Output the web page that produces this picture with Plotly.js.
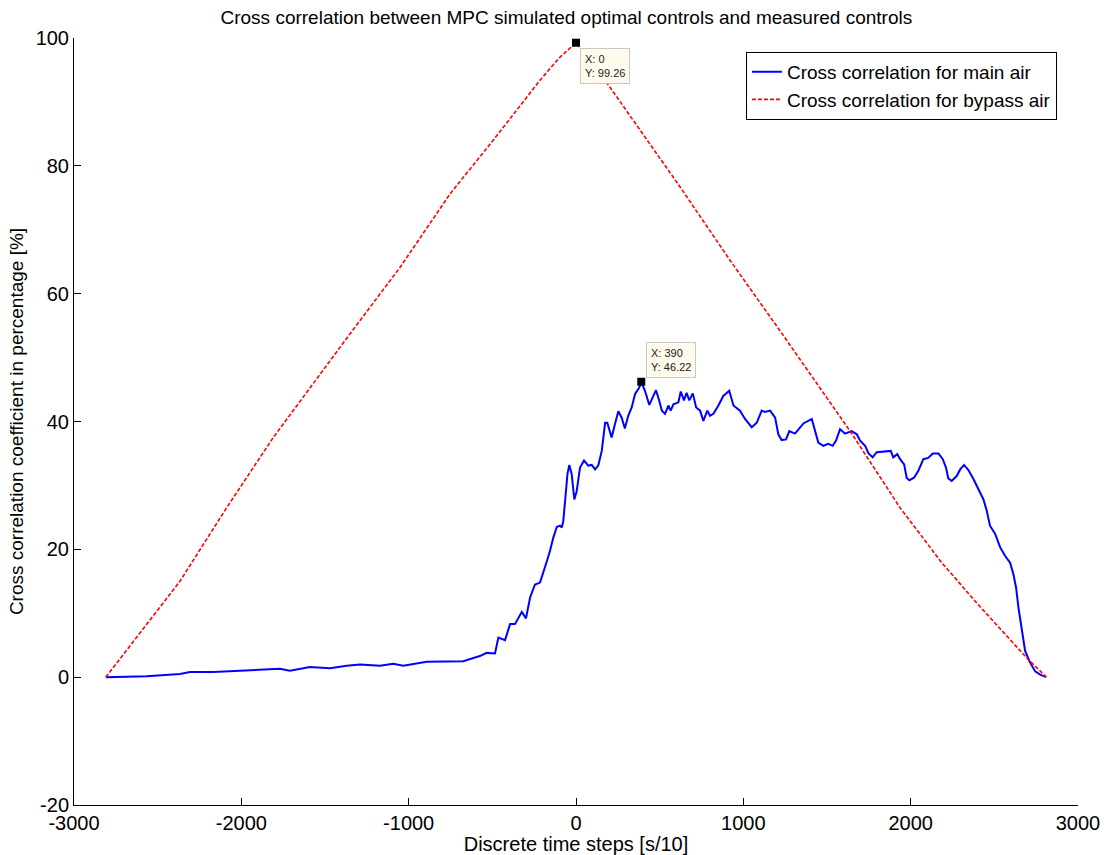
<!DOCTYPE html>
<html>
<head>
<meta charset="utf-8">
<script src="https://cdn.plot.ly/plotly-3.0.1.min.js"></script>
<style>html,body{margin:0;padding:0;background:#fff;}#chart{width:1104px;height:855px;}</style>
</head>
<body>
<div id="chart"></div>
<script>
// Cross correlation for main air (blue)
const mainX = [-2810,-2566,-2367,-2307,-2168,-1968,-1769,-1710,-1590,-1470,-1371,-1291,-1172,-1092,-1032,-892,-773,-674,-613,-574,-534,-484,-464,-424,-394,-365,-324,-299,-274,-245,-215,-191,-171,-156,-136,-115,-96,-85,-76,-65,-51,-40,-26,-10,4,24,48,73,94,114,133,154,174,187,213,233,253,273,292,312,333,353,378,390,412,438,458,478,498,513,532,552,566,582,612,626,645,661,677,698,718,742,761,785,801,821,851,880,916,941,980,1010,1050,1080,1110,1130,1160,1190,1209,1229,1255,1275,1309,1339,1359,1409,1422,1448,1478,1508,1534,1554,1578,1608,1647,1678,1698,1728,1748,1773,1797,1827,1858,1881,1896,1920,1937,1961,1976,1992,2020,2046,2076,2105,2132,2166,2192,2211,2225,2245,2276,2296,2319,2345,2375,2405,2435,2455,2474,2505,2535,2564,2594,2614,2630,2644,2664,2684,2710,2744,2774,2810];
const mainY = [0,0.15,0.5,0.8,0.8,1.0,1.3,1.0,1.6,1.4,1.8,2.0,1.8,2.1,1.8,2.4,2.4,2.5,3.0,3.3,3.8,3.7,6.2,5.8,8.3,8.3,10.2,9.2,12.5,14.5,14.8,16.6,18.4,19.7,21.8,23.5,23.7,23.4,24.4,27.6,31.8,33.2,31.8,27.8,29.1,32.8,33.9,33.1,33.2,32.5,33.1,35.4,39.8,39.8,37.5,39.6,41.6,40.6,38.9,40.9,42.2,44.3,45.3,46.22,44.8,42.6,43.8,44.9,43.2,41.7,41.2,42.5,41.7,42.7,43.0,44.7,43.3,44.5,43.3,44.4,42.2,41.7,40.1,41.7,40.9,41.2,42.5,44.0,44.8,42.5,41.7,40.4,39.1,39.8,41.7,41.5,41.7,40.6,38.0,37.1,37.2,38.5,38.1,39.1,39.7,40.4,39.1,36.7,36.2,36.5,36.2,37.0,38.8,38.1,38.5,38.0,37.0,36.2,35.0,34.4,35.2,35.3,35.3,35.4,34.4,34.9,34.1,33.3,31.2,30.8,31.2,32.3,34.1,34.3,35.0,35.0,34.1,32.8,31.1,30.7,31.5,32.5,33.2,32.4,31.0,29.4,27.8,26.0,23.7,22.4,20.3,19.0,17.9,16.1,14.0,10.9,7.7,4.1,2.5,0.9,0.4,0];

// Cross correlation for bypass air (red)
const bypassX = [-2810,-2367,-2088,-1809,-1351,-1052,-753,-495,-215,-100,0,203,622,921,1219,1428,1508,1638,1937,2186,2395,2694,2765,2810];
const bypassY = [0,15.0,26.5,37.5,53.7,64.1,75.6,84.0,93.4,96.9,99.26,92.3,76.7,65.2,54.2,46.4,43.5,38.5,26.5,17.9,11.6,3.0,1.2,0];

// Data tips
const tipX = [0, 390];
const tipY = [99.26, 46.22];

const xTicks = [-3000,-2000,-1000,0,1000,2000,3000];
const yTicks = [-20,0,20,40,60,80,100];

const FONT = '"Liberation Sans", Arial, Helvetica, sans-serif';

const traces = [
  {x: mainX, y: mainY, type: 'scatter', mode: 'lines', name: 'Cross correlation for main air',
   line: {color: '#0000ff', width: 2}},
  {x: bypassX, y: bypassY, type: 'scatter', mode: 'lines', name: 'Cross correlation for bypass air',
   line: {color: '#ff0000', width: 1.6, dash: '4px,2px'}},
  {x: tipX, y: tipY, type: 'scatter', mode: 'markers', showlegend: false,
   marker: {symbol: 'square', size: 8, color: '#000'}}
];

const annotations = [
  {x: tipX[0], y: tipY[0], xref: 'x', yref: 'y', showarrow: false,
   text: 'X: ' + tipX[0] + '<br>Y: ' + tipY[0], align: 'left',
   xanchor: 'left', yanchor: 'top', xshift: 4, yshift: -5,
   bgcolor: '#fffaec', bordercolor: '#c8c8c8', borderwidth: 1, borderpad: 4,
   font: {family: FONT, size: 11, color: '#222'}},
  {x: tipX[1], y: tipY[1], xref: 'x', yref: 'y', showarrow: false,
   text: 'X: ' + tipX[1] + '<br>Y: ' + tipY[1], align: 'left',
   xanchor: 'left', yanchor: 'bottom', xshift: 5, yshift: 4,
   bgcolor: '#fffaec', bordercolor: '#c8c8c8', borderwidth: 1, borderpad: 4,
   font: {family: FONT, size: 11, color: '#222'}}
];

const layout = {
  width: 1104, height: 855,
  margin: {l: 74, r: 26, t: 38, b: 50},
  paper_bgcolor: '#fff', plot_bgcolor: '#fff',
  font: {family: FONT, size: 20, color: '#000'},
  title: {text: 'Cross correlation between MPC simulated optimal controls and measured controls',
          font: {family: FONT, size: 19, color: '#000'},
          x: 0.513, xref: 'container', xanchor: 'center', y: 0.98, yref: 'container', yanchor: 'middle'},
  xaxis: {range: [-3000, 3000], tickvals: xTicks, ticktext: xTicks.map(String),
          showline: true, linecolor: '#000', linewidth: 1, mirror: false,
          ticks: 'inside', ticklen: 7, tickcolor: '#000', showgrid: false, zeroline: false,
          tickfont: {family: FONT, size: 20},
          title: {text: 'Discrete time steps [s/10]', font: {family: FONT, size: 20}, standoff: 4}},
  yaxis: {range: [-20, 100], tickvals: yTicks, ticktext: yTicks.map(String),
          showline: true, linecolor: '#000', linewidth: 1, mirror: false,
          ticks: 'inside', ticklen: 7, tickcolor: '#000', showgrid: false, zeroline: false,
          tickfont: {family: FONT, size: 20},
          title: {text: 'Cross correlation coefficient in percentage [%]', font: {family: FONT, size: 19}, standoff: 6}},
  legend: {x: 0.979, y: 0.982, xanchor: 'right', yanchor: 'top', bgcolor: '#fff',
           bordercolor: '#000', borderwidth: 1, font: {family: FONT, size: 19}, tracegroupgap: 0},
  showlegend: true,
  annotations: annotations
};

Plotly.newPlot('chart', traces, layout, {displayModeBar: false, staticPlot: true});
</script>
</body>
</html>
